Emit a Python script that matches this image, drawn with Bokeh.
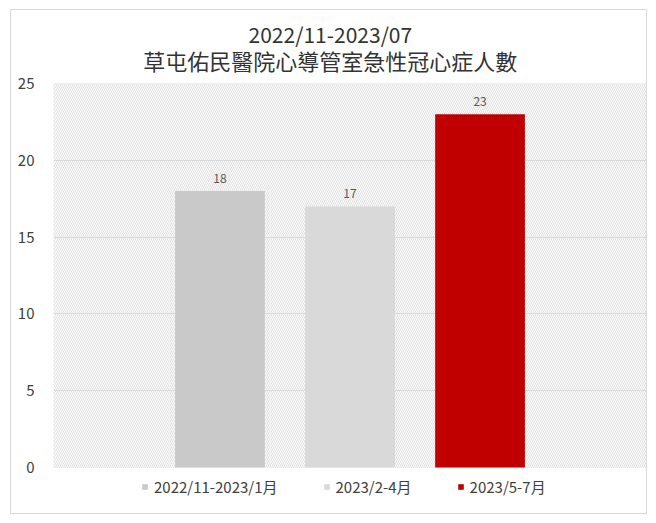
from bokeh.plotting import figure
from bokeh.models import (FactorRange, Range1d, FixedTicker, BoxAnnotation, Legend,
                          LegendItem, Label, ColumnDataSource)
from bokeh.embed import file_html
from bokeh.resources import INLINE

title_line1 = "2022/11-2023/07"
title_line2 = "草屯佑民醫院心導管室急性冠心症人數"
categories = ["2022/11-2023/1月", "2023/2-4月", "2023/5-7月"]
values = [18, 17, 23]
colors = ["#c9c9c9", "#d9d9d9", "#c00000"]
y_ticks = [0, 5, 10, 15, 20, 25]

FONT = "Noto Sans CJK TC"
TXT = "#404040"

src = ColumnDataSource(dict(cat=categories, val=values, color=colors,
                            label=[str(v) for v in values]))

# frame spans the whole chart box; the plot area (0..25) is drawn as a box
p = figure(width=637, height=505, output_backend="svg", toolbar_location=None,
           x_range=FactorRange(factors=categories, range_padding=0.78,
                               range_padding_units="absolute"),
           y_range=Range1d(-2.995, 29.622),
           min_border_left=42, min_border_right=2, min_border_top=2,
           min_border_bottom=2, margin=(9, 0, 0, 10))
p.styles = {"border": "1px solid #d9d9d9"}
p.outline_line_color = None
p.background_fill_color = "white"
p.border_fill_color = "white"

area = BoxAnnotation(bottom=y_ticks[0], top=y_ticks[-1], fill_color="white",
                     fill_alpha=1.0, line_color=None,
                     hatch_pattern="left_diagonal_line", hatch_color="#dedede",
                     hatch_scale=4, hatch_weight=1, level="image")
p.add_layout(area)
area_border = BoxAnnotation(bottom=y_ticks[0], top=y_ticks[-1], fill_alpha=0,
                            line_color="#d9d9d9", line_width=1, level="underlay")
p.add_layout(area_border)

r = p.vbar(x="cat", top="val", width=0.69, fill_color="color", line_color=None,
           source=src)
p.text(x="cat", y="val", text="label", source=src, text_align="center",
       text_baseline="bottom", y_offset=-8, text_font_size="12px",
       text_color="#595959", text_font={"value": FONT})

p.xaxis.visible = False
p.xgrid.visible = False
p.ygrid.ticker = FixedTicker(ticks=y_ticks[1:-1])
p.ygrid.grid_line_color = "#d9d9d9"
p.yaxis.ticker = FixedTicker(ticks=y_ticks)
p.yaxis.axis_line_color = None
p.yaxis.major_tick_line_color = None
p.yaxis.minor_tick_line_color = None
p.yaxis.major_label_text_font = FONT
p.yaxis.major_label_text_font_size = "15px"
p.yaxis.major_label_text_color = TXT
p.yaxis.major_label_standoff = 13

legend = Legend(orientation="horizontal", location=(88, 16),
                glyph_width=7, glyph_height=7, label_standoff=6, spacing=45,
                padding=0, margin=0, border_line_color=None,
                background_fill_alpha=0, label_text_font=FONT,
                label_text_font_size="15px", label_text_color=TXT,
                label_height=16)
legend.items = [LegendItem(label=categories[i], renderers=[r], index=i)
                for i in range(len(categories))]
p.add_layout(legend)

p.add_layout(Label(x=1.349, y=28.22, text=title_line1, text_align="center",
                   text_baseline="middle", text_font=FONT, text_font_size="21px",
                   text_color="#333333"))
p.add_layout(Label(x=1.349, y=26.50, text=title_line2, text_align="center",
                   text_baseline="middle", text_font=FONT, text_font_size="22px",
                   text_color="#333333"))

open("out.html", "w").write(file_html(p, INLINE))
